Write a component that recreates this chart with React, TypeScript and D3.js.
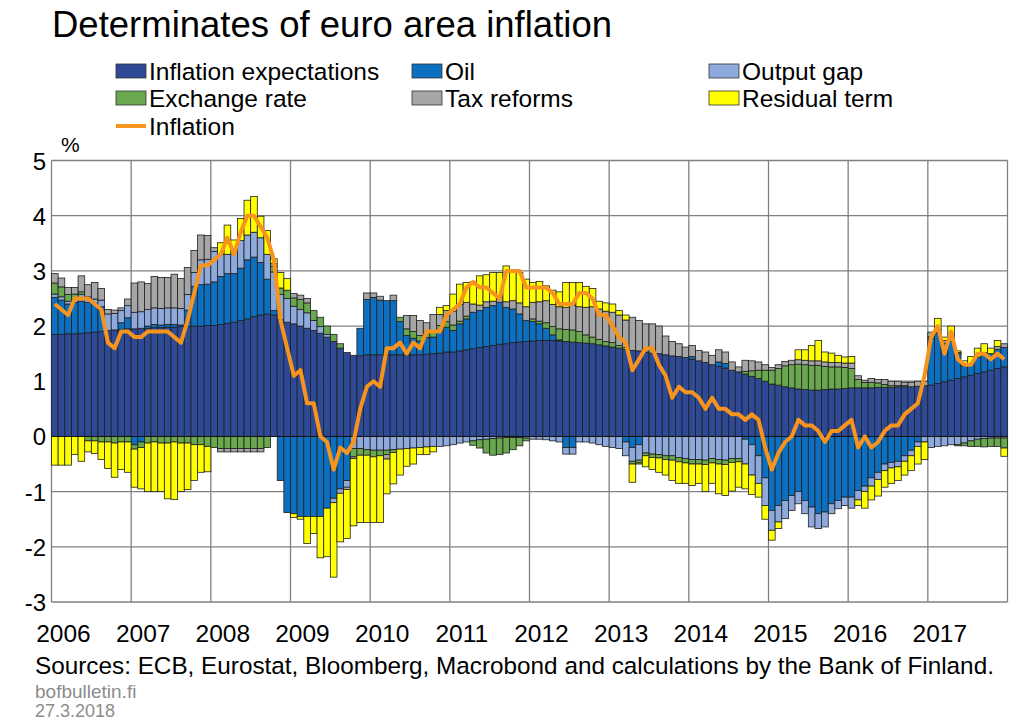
import React, { useRef, useEffect } from 'react';
import * as d3 from 'd3';

// monthly data, Jan 2006 - Dec 2017 (percentage point contributions)
const years = ['2006', '2007', '2008', '2009', '2010', '2011', '2012', '2013', '2014', '2015', '2016', '2017'];

const inflationExpectations = [
  1.85, 1.85, 1.86, 1.86, 1.87, 1.88, 1.89, 1.9, 1.92, 1.93, 1.94, 1.95,
  1.95, 1.96, 1.96, 1.97, 1.97, 1.98, 1.98, 1.99, 1.99, 2.0, 2.0, 2.01,
  2.01, 2.03, 2.05, 2.07, 2.1, 2.13, 2.17, 2.2, 2.22, 2.2, 2.12, 2.07,
  2.04, 2.0, 1.96, 1.92, 1.87, 1.8, 1.72, 1.6, 1.52, 1.47, 1.46, 1.48,
  1.48, 1.48, 1.48, 1.48, 1.48, 1.48, 1.48, 1.48, 1.49, 1.5, 1.51, 1.53,
  1.53, 1.55, 1.57, 1.59, 1.61, 1.63, 1.65, 1.67, 1.68, 1.7, 1.71, 1.72,
  1.73, 1.74, 1.74, 1.74, 1.73, 1.72, 1.71, 1.7, 1.69, 1.68, 1.66, 1.64,
  1.62, 1.6, 1.58, 1.56, 1.55, 1.53, 1.51, 1.5, 1.48, 1.46, 1.45, 1.43,
  1.4, 1.37, 1.34, 1.3, 1.27, 1.24, 1.2, 1.17, 1.13, 1.09, 1.05, 1.0,
  0.95, 0.93, 0.9, 0.88, 0.86, 0.85, 0.84, 0.84, 0.85, 0.86, 0.86, 0.87,
  0.88, 0.88, 0.88, 0.88, 0.89, 0.89, 0.89, 0.9, 0.9, 0.9, 0.91, 0.92,
  0.93, 0.96, 0.99, 1.02, 1.05, 1.08, 1.11, 1.14, 1.17, 1.2, 1.23, 1.26,
];

const oil = [
  0.67, 0.62, 0.54, 0.57, 0.58, 0.55, 0.52, 0.45, 0, 0, 0.12, 0.2,
  -0.15, -0.1, 0.04, 0.06, 0.05, 0.05, 0.05, 0.03, 0.3, 0.72, 0.75, 0.75,
  0.79, 0.87, 0.9, 0.88, 0.95, 1.07, 1.08, 0.95, 0.63, 0.08, -0.8, -1.38,
  -1.4, -1.45, -1.45, -1.45, -1.45, -1.3, -1.12, -0.95, -0.8, 0, 0.5, 1.0,
  1.04, 0.99, 0.98, 0.98, 0.6, 0.35, 0.3, 0.25, 0.3, 0.3, 0.4, 0.45,
  0.39, 0.49, 0.56, 0.66, 0.67, 0.71, 0.72, 0.76, 0.66, 0.61, 0.51, 0.38,
  0.35, 0.3, 0.22, 0.1, 0.02, -0.2, -0.2, 0, 0, 0, 0, 0,
  0, 0, -0.1, -0.2, -0.15, 0, 0, 0, 0, 0, 0, 0,
  0.05, 0, 0, 0, 0.08, 0.08, 0, 0, -0.05, -0.15, -0.35, -0.75,
  -1.34, -1.25, -1.16, -1.07, -1.0, -1.16, -1.28, -1.4, -1.37, -1.22, -1.16, -1.1,
  -1.1, -0.98, -0.9, -0.75, -0.65, -0.5, -0.47, -0.45, -0.35, -0.25, -0.1, 0,
  0.85, 0.9, 0.7, 0.7, 0.45, 0.2, 0.2, 0.3, 0.35, 0.3, 0.35, 0.35,
];

const outputGap = [
  0.06, 0.06, 0.05, 0.05, 0.12, 0.1, 0.08, 0.12, 0.3, 0.3, 0.22, 0.22,
  0.3, 0.3, 0.3, 0.3, 0.3, 0.3, 0.3, 0.3, 0.28, 0.25, 0.45, 0.45,
  0.55, 0.4, 0.35, 0.4, 0.5, 0.45, 0.45, 0.45, 0.45, 0.7, 0.45, 0.43,
  0.32, 0.3, 0.28, 0.18, 0.12, 0.05, -0.08, -0.08, -0.12, -0.22, -0.22, -0.24,
  -0.25, -0.25, -0.25, -0.24, -0.23, -0.22, -0.21, -0.2, -0.19, -0.18, -0.18, -0.17,
  -0.15, -0.12, -0.1, -0.08, -0.06, -0.05, -0.04, -0.03, -0.02, -0.02, -0.02, -0.03,
  -0.05, -0.05, -0.06, -0.08, -0.1, -0.12, -0.12, -0.1, -0.1, -0.12, -0.15, -0.18,
  -0.2, -0.22, -0.25, -0.25, -0.28, -0.3, -0.32, -0.33, -0.35, -0.35, -0.38, -0.4,
  -0.42, -0.42, -0.43, -0.4, -0.42, -0.43, -0.4, -0.4, -0.45, -0.55, -0.5, -0.5,
  -0.36, -0.3, -0.33, -0.27, -0.22, -0.24, -0.36, -0.27, -0.27, -0.18, -0.15, -0.15,
  -0.2, -0.17, -0.1, -0.15, -0.13, -0.12, -0.1, -0.1, -0.1, -0.1, -0.08, -0.1,
  -0.2, -0.18, -0.17, -0.15, -0.15, -0.12, -0.08, -0.05, -0.04, -0.03, -0.03, -0.03,
];

const exchangeRate = [
  0.2, 0.18, 0.12, 0.1, 0.05, -0.08, -0.08, -0.1, -0.1, -0.12, -0.1, -0.1,
  -0.08, -0.1, -0.12, -0.1, -0.12, -0.12, -0.1, -0.12, -0.12, -0.15, -0.15, -0.18,
  -0.2, -0.22, -0.22, -0.22, -0.22, -0.22, -0.22, -0.22, -0.2, 0.1, 0.12, 0.15,
  0.15, 0.18, 0.18, 0.18, 0.17, 0.15, 0.13, 0.08, 0, -0.15, -0.12, -0.1,
  -0.12, -0.1, -0.08, -0.05, 0.08, 0.12, 0.12, 0.1, 0.1, 0.12, 0.1, 0.1,
  0.1, 0.05, 0.05, -0.08, -0.15, -0.25, -0.3, -0.3, -0.28, -0.22, -0.15, -0.05,
  0.05, 0.05, 0.1, 0.15, 0.2, 0.22, 0.22, 0.2, 0.15, 0.12, 0.1, 0.08,
  0.08, 0.05, 0.03, -0.05, -0.05, -0.05, -0.06, -0.06, -0.07, -0.08, -0.08, -0.08,
  -0.08, -0.08, -0.08, -0.08, -0.08, -0.08, -0.07, -0.06, 0.05, 0.1, 0.15, 0.2,
  0.25, 0.3, 0.38, 0.42, 0.45, 0.45, 0.45, 0.45, 0.42, 0.4, 0.4, 0.38,
  0.35, 0.15, 0.1, 0.1, 0.08, 0.05, 0.03, 0.02, 0.02, 0, 0, 0,
  0.03, 0.03, 0, 0, -0.02, -0.05, -0.1, -0.13, -0.15, -0.15, -0.15, -0.18,
];

const taxReforms = [
  0.17, 0.16, 0.13, 0.12, 0.29, 0.22, 0.3, 0.21, 0.08, 0.06, 0.05, 0.12,
  0.53, 0.54, 0.47, 0.57, 0.56, 0.55, 0.61, 0.54, 0.49, 0.4, 0.45, 0.43,
  0.07, -0.06, -0.06, -0.06, -0.06, -0.06, -0.06, -0.06, 0, 0.05, 0, 0,
  0.08, 0.08, 0.08, 0, 0, 0, 0, 0, -0.04, -0.03, 0, 0.12,
  0.08, 0.07, -0.08, 0.1, 0, 0.24, 0.29, 0.27, 0.17, 0.29, 0.2, 0.2,
  0.25, 0.3, 0.25, 0.15, 0.1, 0.1, 0.08, 0.1, 0.1, 0.15, 0.2, 0.25,
  0.3, 0.35, 0.4, 0.4, 0.4, 0.4, 0.45, 0.45, 0.5, 0.55, 0.55, 0.55,
  0.55, 0.55, 0.5, 0.6, 0.55, 0.51, 0.53, 0.5, 0.34, 0.26, 0.23, 0.19,
  0.2, 0.19, 0.19, 0.17, 0.22, 0.21, 0.15, 0.09, 0.2, 0.18, 0.15, 0.1,
  0.05, 0.07, 0.08, 0.08, 0.08, 0.08, 0.08, 0.08, 0.08, 0.08, 0.08, 0.08,
  0.1, 0.07, 0.04, 0.07, 0.06, 0.09, 0.08, 0.08, 0.06, 0.08, 0.09, 0.08,
  0.08, 0.05, 0.05, 0.05, 0.02, 0, 0, 0, 0, 0, 0.05, 0.07,
];

const residualTerm = [
  -0.52, -0.52, -0.52, -0.33, -0.45, -0.2, -0.23, -0.32, -0.48, -0.62, -0.5, -0.55,
  -0.69, -0.75, -0.88, -0.9, -0.88, -1.01, -1.04, -0.88, -0.84, -0.65, -0.5, -0.46,
  0, 0.21, 0.53, 0.21, 0.4, 0.63, 0.65, 0.39, 0.43, 0.09, 0.28, 0.21,
  -0.07, -0.05, -0.49, -0.31, -0.75, -0.88, -1.35, -0.88, -0.89, -1.22, -1.22, -1.22,
  -1.19, -1.21, -0.63, -0.57, -0.47, -0.32, -0.29, -0.13, -0.14, -0.1, 0.13, 0.09,
  0.31, 0.37, 0.36, 0.4, 0.53, 0.49, 0.52, 0.44, 0.65, 0.54, 0.55, 0.5,
  0.36, 0.37, 0.27, 0.26, 0.27, 0.45, 0.41, 0.44, 0.38, 0.33, 0.14, 0.15,
  0.15, 0.08, 0.09, -0.33, -0.02, -0.2, -0.22, -0.26, -0.28, -0.37, -0.39, -0.37,
  -0.39, -0.35, -0.49, -0.37, -0.54, -0.56, -0.52, -0.46, -0.45, -0.35, -0.25, -0.25,
  -0.18, -0.12, 0, 0, 0.18, 0.19, 0.28, 0.37, 0.18, 0.17, 0.13, 0.11,
  0.12, -0.1, -0.3, -0.25, -0.3, -0.3, -0.28, -0.25, -0.25, -0.27, -0.32, -0.32,
  0, 0.2, 0.06, 0.23, 0.03, 0.09, 0.14, 0.16, 0.16, 0.1, 0.11, -0.15,
];

const inflation = [
  2.4, 2.3, 2.2, 2.5, 2.5, 2.5, 2.4, 2.3, 1.7, 1.6, 1.9, 1.9,
  1.8, 1.8, 1.9, 1.9, 1.9, 1.9, 1.8, 1.7, 2.1, 2.6, 3.1, 3.1,
  3.2, 3.3, 3.6, 3.3, 3.7, 4.0, 4.0, 3.8, 3.6, 3.2, 2.1, 1.6,
  1.1, 1.2, 0.6, 0.6, 0.0, -0.1, -0.6, -0.2, -0.3, -0.1, 0.5, 0.9,
  1.0, 0.9, 1.6, 1.6, 1.7, 1.5, 1.7, 1.6, 1.9, 1.9, 1.9, 2.2,
  2.3, 2.4, 2.7, 2.8, 2.7, 2.7, 2.6, 2.5, 3.0, 3.0, 3.0, 2.7,
  2.7, 2.7, 2.7, 2.6, 2.4, 2.4, 2.4, 2.6, 2.6, 2.5, 2.2, 2.2,
  2.0, 1.8, 1.7, 1.2, 1.4, 1.6, 1.6, 1.3, 1.1, 0.7, 0.9, 0.8,
  0.8, 0.7, 0.5, 0.7, 0.5, 0.5, 0.4, 0.4, 0.3, 0.4, 0.3, -0.2,
  -0.6, -0.3, -0.1, 0.0, 0.3, 0.2, 0.2, 0.1, -0.1, 0.1, 0.1, 0.2,
  0.3, -0.2, 0.0, -0.2, -0.1, 0.1, 0.2, 0.2, 0.4, 0.5, 0.6, 1.1,
  1.8, 2.0, 1.5, 1.9, 1.4, 1.3, 1.3, 1.5, 1.5, 1.4, 1.5, 1.4,
];

const yTicks = [-3, -2, -1, 0, 1, 2, 3, 4, 5];

const seriesKeys = ['expectations', 'oil', 'outputGap', 'exchangeRate', 'taxReforms', 'residual'];
const seriesLabels = ['Inflation expectations', 'Oil', 'Output gap', 'Exchange rate', 'Tax reforms', 'Residual term'];
const seriesValues = [inflationExpectations, oil, outputGap, exchangeRate, taxReforms, residualTerm];
const seriesColors = ['#2e4a96', '#0d6fc0', '#8eaadc', '#6aa84f', '#a6a6a6', '#ffff00'];
const lineColor = '#f7941d';

const FONT = '"Liberation Sans", Arial, sans-serif';

const App: React.FC = () => {
  const ref = useRef<SVGSVGElement>(null);

  useEffect(() => {
    const svg = d3.select(ref.current);
    svg.selectAll('*').remove();

    const left = 51.5;
    const right = 1007.5;
    const top = 160.5;
    const bottom = 602;

    const rows = inflation.map((_, i) => {
      const r: any = { i };
      seriesKeys.forEach((k, j) => (r[k] = seriesValues[j][i]));
      return r;
    });

    const x = d3
      .scaleBand<number>()
      .domain(d3.range(inflation.length))
      .range([left, right])
      .padding(0);
    const y = d3.scaleLinear().domain([-3, 5]).range([bottom, top]);
    const bw = x.bandwidth();

    // title
    svg
      .append('text')
      .attr('x', 52)
      .attr('y', 37)
      .attr('font-family', FONT)
      .attr('font-size', 36.5)
      .attr('fill', '#000')
      .text('Determinates of euro area inflation');

    // legend
    const legendCols = [116, 412, 709];
    const legendRows = [71, 98, 126];
    const legend = svg.append('g').attr('font-family', FONT).attr('font-size', 24.5);
    seriesLabels.forEach((label, j) => {
      const lx = legendCols[j % 3];
      const ly = legendRows[Math.floor(j / 3)];
      legend
        .append('rect')
        .attr('x', lx)
        .attr('y', ly - 7)
        .attr('width', 30)
        .attr('height', 14)
        .attr('fill', seriesColors[j])
        .attr('stroke', '#333')
        .attr('stroke-width', 0.8);
      legend
        .append('text')
        .attr('x', lx + 33)
        .attr('y', ly + 9)
        .text(label);
    });
    legend
      .append('line')
      .attr('x1', legendCols[0])
      .attr('x2', legendCols[0] + 30)
      .attr('y1', legendRows[2])
      .attr('y2', legendRows[2])
      .attr('stroke', lineColor)
      .attr('stroke-width', 4);
    legend
      .append('text')
      .attr('x', legendCols[0] + 33)
      .attr('y', legendRows[2] + 9)
      .text('Inflation');

    svg
      .append('text')
      .attr('x', 61)
      .attr('y', 152)
      .attr('font-family', FONT)
      .attr('font-size', 21)
      .text('%');

    // grid
    const grid = svg.append('g').attr('stroke', '#808080').attr('stroke-width', 1.3);
    grid
      .selectAll('line.h')
      .data(yTicks)
      .enter()
      .append('line')
      .attr('x1', left)
      .attr('x2', right)
      .attr('y1', (d) => y(d))
      .attr('y2', (d) => y(d));
    grid
      .selectAll('line.v')
      .data(d3.range(years.length + 1))
      .enter()
      .append('line')
      .attr('x1', (d) => (d < years.length ? (x(d * 12) as number) : right))
      .attr('x2', (d) => (d < years.length ? (x(d * 12) as number) : right))
      .attr('y1', top)
      .attr('y2', bottom);

    // stacked bars
    const stack = d3.stack<any>().keys(seriesKeys).offset(d3.stackOffsetDiverging);
    const layers = stack(rows);
    svg
      .append('g')
      .selectAll('g')
      .data(layers)
      .enter()
      .append('g')
      .attr('fill', (_, j) => seriesColors[j])
      .selectAll('rect')
      .data((d) => d.filter((s) => s[0] !== s[1]))
      .enter()
      .append('rect')
      .attr('x', (d: any) => x(d.data.i) as number)
      .attr('width', bw)
      .attr('y', (d) => y(Math.max(d[0], d[1])))
      .attr('height', (d) => Math.abs(y(d[0]) - y(d[1])))
      .attr('stroke', '#1f1f1f')
      .attr('stroke-width', 0.8);

    svg
      .append('line')
      .attr('x1', left)
      .attr('x2', right)
      .attr('y1', y(0))
      .attr('y2', y(0))
      .attr('stroke', '#111')
      .attr('stroke-width', 1);

    // inflation line
    const line = d3
      .line<number>()
      .x((_, i) => (x(i) as number) + bw / 2)
      .y((d) => y(d));
    svg
      .append('path')
      .datum(inflation)
      .attr('d', line)
      .attr('fill', 'none')
      .attr('stroke', lineColor)
      .attr('stroke-width', 4)
      .attr('stroke-linejoin', 'round');

    // axes labels
    svg
      .append('g')
      .attr('font-family', FONT)
      .attr('font-size', 24)
      .selectAll('text')
      .data(yTicks)
      .enter()
      .append('text')
      .attr('x', 46)
      .attr('y', (d) => y(d) + 9)
      .attr('text-anchor', 'end')
      .text((d) => String(d));

    svg
      .append('g')
      .attr('font-family', FONT)
      .attr('font-size', 24.5)
      .selectAll('text')
      .data(years)
      .enter()
      .append('text')
      .attr('x', (_, k) => (x(k * 12) as number) + 12)
      .attr('y', 642)
      .attr('text-anchor', 'middle')
      .text((d) => d);

    svg
      .append('text')
      .attr('x', 35)
      .attr('y', 674)
      .attr('font-family', FONT)
      .attr('font-size', 24.3)
      .text('Sources: ECB, Eurostat, Bloomberg, Macrobond and calculations by the Bank of Finland.');

    svg
      .append('text')
      .attr('x', 35)
      .attr('y', 698)
      .attr('font-family', FONT)
      .attr('font-size', 19)
      .attr('fill', '#8c8c8c')
      .text('bofbulletin.fi');
    svg
      .append('text')
      .attr('x', 35)
      .attr('y', 717)
      .attr('font-family', FONT)
      .attr('font-size', 18)
      .attr('fill', '#8c8c8c')
      .text('27.3.2018');
  }, []);

  return (
    <svg
      ref={ref}
      width={1019}
      height={722}
      style={{ position: 'absolute', left: 0, top: 0, background: '#fff' }}
    />
  );
};

export default App;
